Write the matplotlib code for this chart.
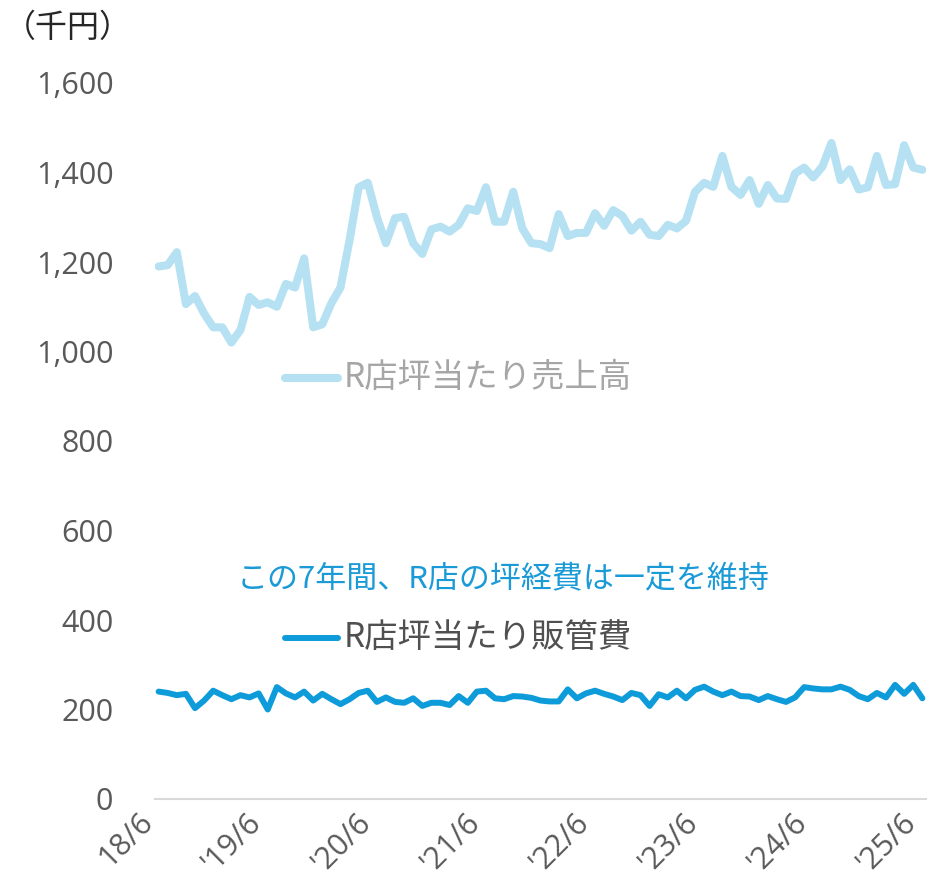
import matplotlib
matplotlib.use("Agg")
import matplotlib.pyplot as plt
from matplotlib.lines import Line2D

# R店の月次データ（千円）、2018/6〜2025/6
uriage = [1190, 1193, 1222, 1106, 1124, 1085, 1054, 1054, 1020, 1048,
          1122, 1104, 1110, 1100, 1151, 1143, 1208, 1054, 1061, 1108,
          1143, 1249, 1367, 1377, 1301, 1242, 1298, 1301, 1242, 1218,
          1273, 1279, 1268, 1283, 1320, 1314, 1367, 1290, 1290, 1357,
          1275, 1242, 1240, 1231, 1307, 1258, 1265, 1265, 1309, 1281,
          1316, 1303, 1270, 1290, 1261, 1258, 1283, 1275, 1292, 1357,
          1377, 1368, 1437, 1368, 1350, 1383, 1330, 1372, 1342, 1341,
          1398, 1411, 1389, 1413, 1466, 1383, 1407, 1362, 1367, 1437,
          1372, 1374, 1461, 1411, 1406]

hankanhi = [240, 237, 232, 235, 203, 220, 242, 232, 223, 232,
            227, 236, 200, 250, 236, 227, 240, 220, 235, 223,
            212, 223, 237, 242, 217, 227, 217, 215, 225, 208,
            215, 215, 210, 230, 215, 240, 242, 225, 223, 230,
            229, 226, 220, 218, 218, 245, 225, 236, 242, 235,
            229, 221, 237, 232, 208, 234, 227, 242, 225, 244,
            251, 240, 232, 240, 230, 229, 221, 230, 223, 217,
            227, 250, 247, 245, 245, 251, 244, 230, 223, 237,
            227, 255, 235, 255, 225]

etiquetas_x = ["18/6", "'19/6", "'20/6", "'21/6", "'22/6", "'23/6", "'24/6", "'25/6"]
etiquetas_y = [0, 200, 400, 600, 800, 1000, 1200, 1400, 1600]

COLOR_CLARO = "#B5E1F3"
COLOR_OSCURO = "#0E9BDA"
JP = ["Noto Sans CJK JP", "DejaVu Sans"]

W, H = 928, 892
fig = plt.figure(figsize=(W / 100, H / 100), dpi=100)
ax = fig.add_axes([155 / W, 1 - 799 / H, 771 / W, (799 - 83) / H])

meses = list(range(len(uriage)))
ax.plot(meses, uriage, color=COLOR_CLARO, lw=5.8, solid_capstyle="round",
        solid_joinstyle="round")
ax.plot(meses, hankanhi, color=COLOR_OSCURO, lw=4.3, solid_capstyle="round",
        solid_joinstyle="round")

ax.set_xlim(-0.4, len(uriage) - 1 + 0.4)
ax.set_ylim(0, 1600)

ax.set_yticks(etiquetas_y)
ax.set_yticklabels([f"{v:,}" for v in etiquetas_y])
ax.set_xticks(range(0, len(uriage), 12))
ax.set_xticklabels(etiquetas_x, rotation=45, ha="right", va="top")

ax.tick_params(axis="y", length=0, pad=30, labelsize=22, labelcolor="#595959")
ax.tick_params(axis="x", length=0, pad=6, labelsize=22, labelcolor="#595959")
for lab in ax.get_xticklabels() + ax.get_yticklabels():
    lab.set_family(["Open Sans", "DejaVu Sans"])

for lado in ["left", "right", "top"]:
    ax.spines[lado].set_visible(False)
ax.spines["bottom"].set_color("#D9D9D9")
ax.spines["bottom"].set_linewidth(1.5)

def px(x, y):
    return x / W, 1 - y / H

# leyendas manuales
for y, color, lw, texto, tcolor in [
        (378, COLOR_CLARO, 5.8, "R店坪当たり売上高", "#A6A6A6"),
        (638, COLOR_OSCURO, 4.3, "R店坪当たり販管費", "#505050")]:
    x0, y0 = px(285, y)
    x1, _ = px(338, y)
    fig.add_artist(Line2D([x0, x1], [y0, y0], color=color, lw=lw,
                          solid_capstyle="round"))
    fig.text(*px(344, y), texto, fontsize=24, color=tcolor, family=JP,
             va="center", ha="left")

fig.text(*px(237, 580), "この7年間、R店の坪経費は一定を維持", fontsize=22.3,
         color="#1A9AD6", family=JP, va="center", ha="left")

fig.text(*px(4, 28), "（千円）", fontsize=23, color="#262626", family=JP,
         va="center", ha="left")

fig.savefig("out.png", dpi=100)
